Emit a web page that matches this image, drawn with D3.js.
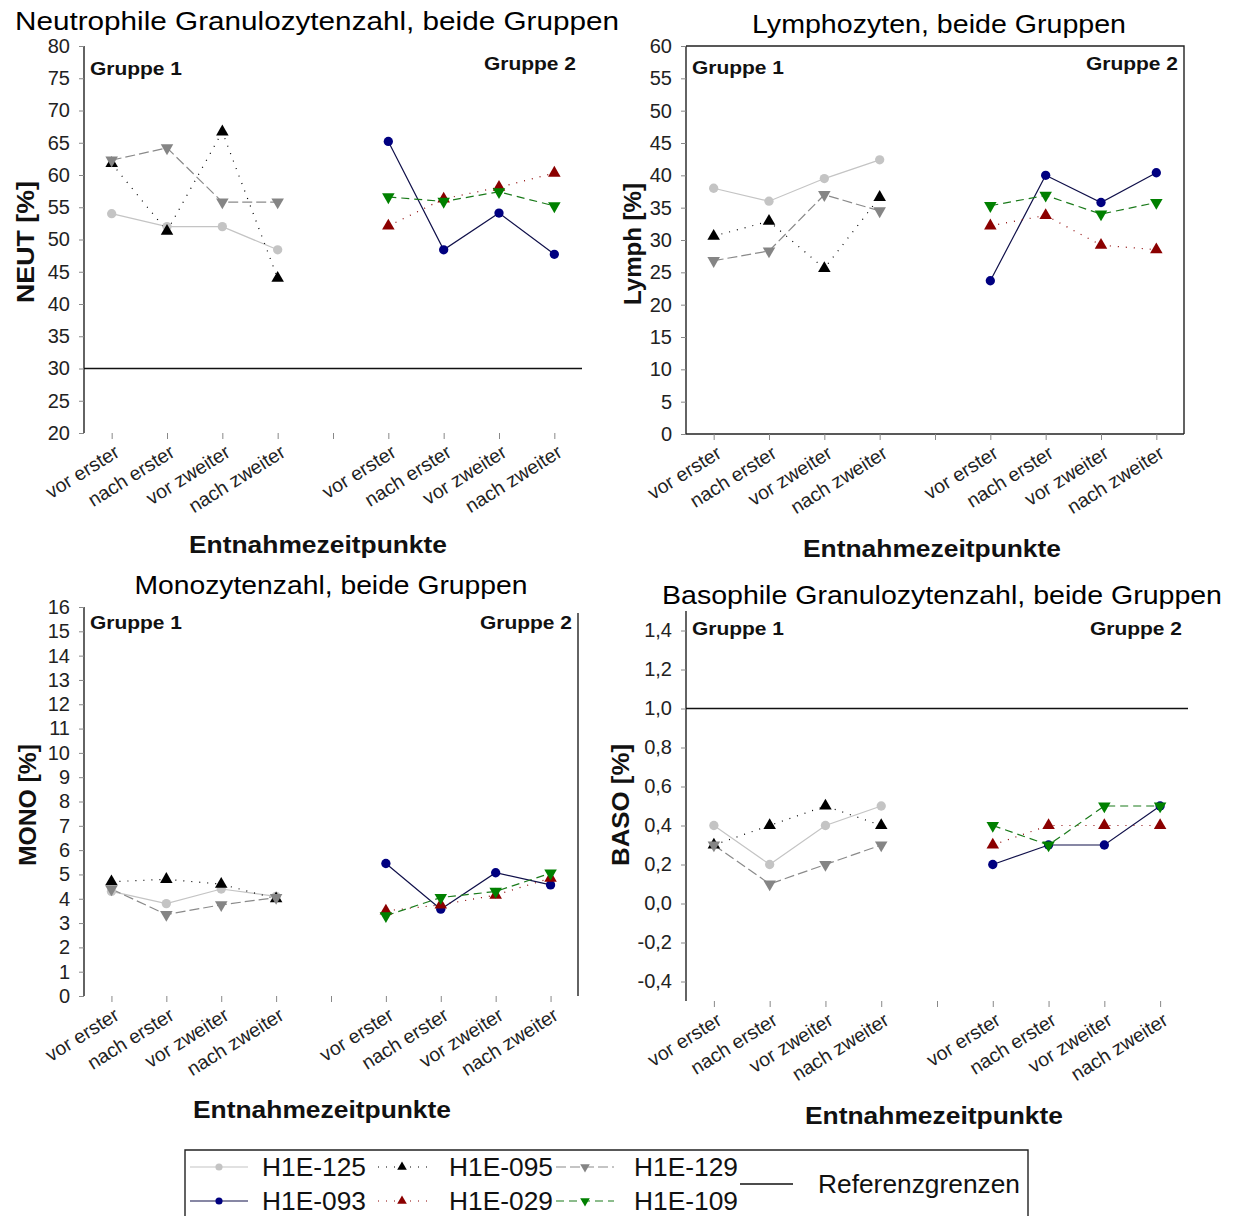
<!DOCTYPE html>
<html>
<head>
<meta charset="utf-8">
<script src="https://cdn.jsdelivr.net/npm/d3@7"></script>
<style>
  body { margin: 0; background: #fff; }
  svg { font-family: "Liberation Sans", Arial, sans-serif; }
</style>
</head>
<body>
<svg width="1236" height="1216"></svg>
<script>
const svg = d3.select('svg');

// Category labels: 4 time points per group, one empty slot between groups
const categories = ['vor erster', 'nach erster', 'vor zweiter', 'nach zweiter'];
const slots = [...categories, '', ...categories];

const group1 = ['H1E-125', 'H1E-095', 'H1E-129'];
const group2 = ['H1E-093', 'H1E-029', 'H1E-109'];

// NEUT [%]
const neut125 = [54, 52, 52, 48.4];
const neut095 = [61.8, 51.3, 66.7, 44];
const neut129 = [62.3, 64.2, 55.8, 55.8];
const neut093 = [65.2, 48.4, 54.1, 47.7];
const neut029 = [52.1, 56.3, 58.1, 60.3];
const neut109 = [56.6, 55.9, 57.4, 55.2];

// Lymph [%]
const lymph125 = [38, 36, 39.5, 42.4];
const lymph095 = [30.6, 32.9, 25.6, 36.6];
const lymph129 = [26.8, 28.3, 37, 34.5];
const lymph093 = [23.7, 40, 35.8, 40.4];
const lymph029 = [32.2, 33.8, 29.2, 28.5];
const lymph109 = [35.3, 36.9, 34, 35.8];

// MONO [%]
const mono125 = [4.3, 3.8, 4.4, 4.1];
const mono095 = [4.7, 4.8, 4.6, 4.0];
const mono129 = [4.4, 3.35, 3.75, 4.05];
const mono093 = [5.45, 3.57, 5.07, 4.57];
const mono029 = [3.5, 3.75, 4.15, 4.85];
const mono109 = [3.3, 4.05, 4.3, 5.05];

// BASO [%]
const baso125 = [0.4, 0.2, 0.4, 0.5];
const baso095 = [0.3, 0.4, 0.5, 0.4];
const baso129 = [0.3, 0.1, 0.2, 0.3];
const baso093 = [0.2, 0.3, 0.3, 0.5];
const baso029 = [0.3, 0.4, 0.4, 0.4];
const baso109 = [0.4, 0.3, 0.5, 0.5];

// Y tick values
const neutTicks = d3.range(20, 81, 5);
const lymphTicks = d3.range(0, 61, 5);
const monoTicks = d3.range(0, 17, 1);
const basoTicks = [-0.4, -0.2, 0, 0.2, 0.4, 0.6, 0.8, 1.0, 1.2, 1.4];

// Series look (same in every panel)
const style = {
  'H1E-125': {marker: 'circle',   fill: '#c4c4c4', stroke: '#c4c4c4', dash: null},
  'H1E-095': {marker: 'triangle', fill: '#000000', stroke: '#000000', dash: '1,7'},
  'H1E-129': {marker: 'tridown',  fill: '#858585', stroke: '#8a8a8a', dash: '10,4'},
  'H1E-093': {marker: 'circle',   fill: '#000080', stroke: '#10104a', dash: null},
  'H1E-029': {marker: 'triangle', fill: '#8b0000', stroke: '#8b0000', dash: '1,7'},
  'H1E-109': {marker: 'tridown',  fill: '#008000', stroke: '#1a7a1a', dash: '8,5'}
};

const panels = [
  {title: 'Neutrophile Granulozytenzahl, beide Gruppen', titleX: 317, titleY: 30, titleW: 604,
   yLabel: 'NEUT [%]', yLabelX: 34, yLabelC: 242,
   left: 84, right: 582, top: 46, bottom: 433, domain: [20, 80], ticks: neutTicks, fmt: d3.format('d'),
   g1: [neut125, neut095, neut129], g2: [neut093, neut029, neut109],
   refs: [30], frame: 'none', xTitleX: 318, xTitleY: 553, gr1Y: 75, gr2Y: 70},
  {title: 'Lymphozyten, beide Gruppen', titleX: 939, titleY: 33, titleW: 374,
   yLabel: 'Lymph [%]', yLabelX: 641, yLabelC: 244,
   left: 686, right: 1184, top: 46, bottom: 434, domain: [0, 60], ticks: lymphTicks, fmt: d3.format('d'),
   g1: [lymph125, lymph095, lymph129], g2: [lymph093, lymph029, lymph109],
   refs: [], frame: 'box', xTitleX: 932, xTitleY: 557, gr1Y: 74, gr2Y: 70},
  {title: 'Monozytenzahl, beide Gruppen', titleX: 331, titleY: 594, titleW: 393,
   yLabel: 'MONO [%]', yLabelX: 36, yLabelC: 805,
   left: 84, right: 578, top: 607, bottom: 996, domain: [0, 16], ticks: monoTicks, fmt: d3.format('d'),
   g1: [mono125, mono095, mono129], g2: [mono093, mono029, mono109],
   refs: [], frame: 'right', xTitleX: 322, xTitleY: 1118, gr1Y: 629, gr2Y: 629},
  {title: 'Basophile Granulozytenzahl, beide Gruppen', titleX: 942, titleY: 604, titleW: 560,
   yLabel: 'BASO [%]', yLabelX: 629, yLabelC: 805,
   left: 686, right: 1188, top: 611, bottom: 1001, domain: [-0.5, 1.5], ticks: basoTicks,
   fmt: v => d3.format('.1f')(v).replace('.', ',').replace('\u2212', '-'),
   g1: [baso125, baso095, baso129], g2: [baso093, baso029, baso109],
   refs: [1.0], frame: 'none', xTitleX: 934, xTitleY: 1124, gr1Y: 635, gr2Y: 635}
];

function drawMarker(sel, name, size) {
  const s = style[name];
  const type = s.marker === 'circle' ? d3.symbolCircle : d3.symbolTriangle;
  return sel.append('path')
    .attr('d', d3.symbol(type, size)())
    .attr('fill', s.fill)
    .attr('transform', s.marker === 'tridown' ? 'rotate(180)' : null);
}

panels.forEach(p => {
  const g = svg.append('g');

  const x = d3.scaleBand().domain(d3.range(9)).range([p.left, p.right]).paddingInner(0);
  const cx = i => x(i) + x.bandwidth() / 2;
  const y = d3.scaleLinear().domain(p.domain).range([p.bottom, p.top]);

  // title
  g.append('text').attr('x', p.titleX).attr('y', p.titleY)
    .attr('text-anchor', 'middle').attr('font-size', 26).attr('fill', '#000')
    .attr('textLength', p.titleW).attr('lengthAdjust', 'spacingAndGlyphs')
    .text(p.title);

  // y axis
  const yAxis = g.append('g').attr('transform', `translate(${p.left},0)`)
    .call(d3.axisLeft(y).tickValues(p.ticks).tickFormat(p.fmt).tickSize(5).tickPadding(9));
  yAxis.select('.domain').attr('stroke', '#222').attr('stroke-width', 1.4).attr('d', `M0,${p.top}V${p.bottom}`);
  yAxis.selectAll('.tick line').attr('stroke', '#888');
  yAxis.selectAll('.tick text').attr('font-size', 20).attr('fill', '#222');

  // x axis (ticks only, labels rotated)
  const xAxis = g.append('g').attr('transform', `translate(0,${p.bottom})`)
    .call(d3.axisBottom(d3.scalePoint().domain(d3.range(9)).range([cx(0), cx(8)]))
      .tickFormat(i => slots[i]).tickSize(6).tickPadding(2));
  if (p.frame === 'box') {
    xAxis.select('.domain').attr('stroke', '#222').attr('stroke-width', 1.4).attr('d', `M${p.left},0H${p.right}`);
  } else {
    xAxis.select('.domain').remove();
  }
  xAxis.selectAll('.tick line').attr('stroke', '#888');
  xAxis.selectAll('.tick text')
    .attr('font-size', 19.5).attr('fill', '#222')
    .attr('text-anchor', 'end')
    .attr('transform', 'translate(-3,4) rotate(-32)');

  // frame pieces
  if (p.frame === 'box') {
    g.append('path').attr('d', `M${p.left},${p.top}H${p.right}V${p.bottom}`)
      .attr('fill', 'none').attr('stroke', '#222').attr('stroke-width', 1.4);
  }
  if (p.frame === 'right') {
    g.append('line').attr('x1', p.right).attr('x2', p.right).attr('y1', p.top + 6).attr('y2', p.bottom)
      .attr('stroke', '#222').attr('stroke-width', 1.4);
  }

  // reference limits
  p.refs.forEach(r => {
    g.append('line').attr('x1', p.left).attr('x2', p.right).attr('y1', y(r)).attr('y2', y(r))
      .attr('stroke', '#111').attr('stroke-width', 1.4);
  });

  // group labels
  g.append('text').attr('x', p.left + 6).attr('y', p.gr1Y).attr('font-size', 19).attr('font-weight', 'bold')
    .attr('textLength', 92).attr('lengthAdjust', 'spacingAndGlyphs')
    .attr('fill', '#111').text('Gruppe 1');
  g.append('text').attr('x', p.right - 98).attr('y', p.gr2Y).attr('font-size', 19).attr('font-weight', 'bold')
    .attr('textLength', 92).attr('lengthAdjust', 'spacingAndGlyphs')
    .attr('fill', '#111').text('Gruppe 2');

  // axis titles
  g.append('text').attr('transform', `translate(${p.yLabelX},${p.yLabelC}) rotate(-90)`)
    .attr('text-anchor', 'middle').attr('font-size', 23).attr('font-weight', 'bold').attr('fill', '#111')
    .attr('textLength', 122).attr('lengthAdjust', 'spacingAndGlyphs')
    .text(p.yLabel);
  g.append('text').attr('x', p.xTitleX).attr('y', p.xTitleY)
    .attr('text-anchor', 'middle').attr('font-size', 24).attr('font-weight', 'bold').attr('fill', '#111')
    .attr('textLength', 258).attr('lengthAdjust', 'spacingAndGlyphs')
    .text('Entnahmezeitpunkte');

  // series
  const line = d3.line().x(d => cx(d.i)).y(d => y(d.v));
  const series = [];
  group1.forEach((name, k) => series.push({name, pts: p.g1[k].map((v, j) => ({i: j, v}))}));
  group2.forEach((name, k) => series.push({name, pts: p.g2[k].map((v, j) => ({i: j + 5, v}))}));

  series.forEach(s => {
    const st = style[s.name];
    g.append('path').datum(s.pts).attr('d', line)
      .attr('fill', 'none').attr('stroke', st.stroke).attr('stroke-width', 1.2)
      .attr('stroke-dasharray', st.dash);
  });
  series.forEach(s => {
    g.selectAll(null).data(s.pts).enter().append('g')
      .attr('transform', d => `translate(${cx(d.i)},${y(d.v)})`)
      .each(function () { drawMarker(d3.select(this), s.name, 68); });
  });
});

// legend
const legendRows = [
  ['H1E-125', 'H1E-095', 'H1E-129'],
  ['H1E-093', 'H1E-029', 'H1E-109']
];
const legendCols = [{lx: 190, mx: 219, tx: 262, len: 58}, {lx: 378, mx: 402, tx: 449, len: 52}, {lx: 556, mx: 585, tx: 634, len: 58}];
const legendY = [1167, 1201];

const leg = svg.append('g');
leg.append('path').attr('d', 'M185,1230V1150H1028V1230')
  .attr('fill', 'none').attr('stroke', '#222').attr('stroke-width', 1.4);

legendRows.forEach((row, r) => {
  row.forEach((name, c) => {
    const col = legendCols[c];
    const st = style[name];
    const yy = legendY[r];
    leg.append('line').attr('x1', col.lx).attr('x2', col.lx + col.len).attr('y1', yy).attr('y2', yy)
      .attr('stroke', st.stroke).attr('stroke-width', 1.2).attr('stroke-dasharray', st.dash);
    const m = leg.append('g').attr('transform', `translate(${col.mx},${yy})`);
    drawMarker(m, name, 40);
    leg.append('text').attr('x', col.tx).attr('y', yy + 9).attr('font-size', 25).attr('fill', '#111')
      .attr('textLength', 104).attr('lengthAdjust', 'spacingAndGlyphs').text(name);
  });
});
leg.append('line').attr('x1', 740).attr('x2', 793).attr('y1', 1184).attr('y2', 1184)
  .attr('stroke', '#111').attr('stroke-width', 1.4);
leg.append('text').attr('x', 818).attr('y', 1193).attr('font-size', 25).attr('fill', '#111')
  .attr('textLength', 202).attr('lengthAdjust', 'spacingAndGlyphs').text('Referenzgrenzen');
</script>
</body>
</html>
